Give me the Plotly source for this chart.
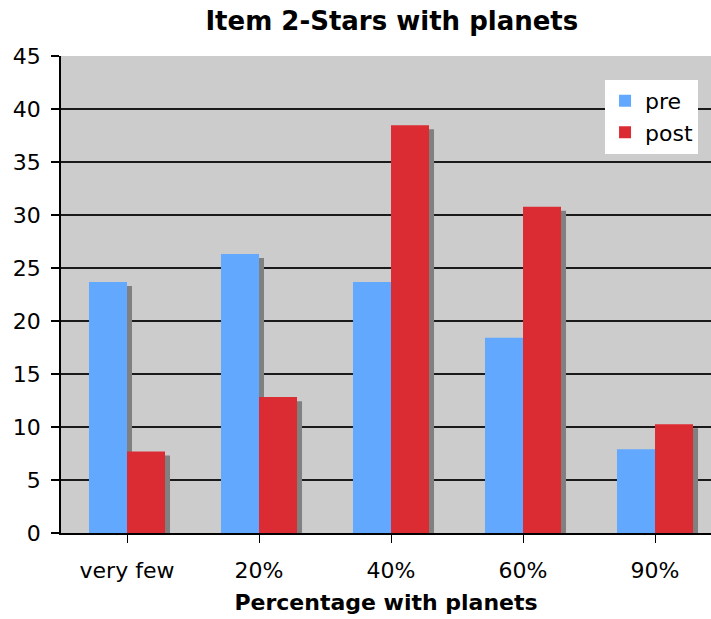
import plotly.graph_objects as go

categories = ["very few", "20%", "40%", "60%", "90%"]
pre = [23.68, 26.32, 23.68, 18.42, 7.89]
post = [7.69, 12.82, 38.46, 30.77, 10.26]
y_ticks = list(range(0, 50, 5))

BLUE = "#62A8FF"
RED = "#DC2C33"
SHADOW = "#808080"
FONT = "DejaVu Sans"

# bar geometry in category units (one category = 1.0)
bar_w = 0.288
shadow_dx = 0.038
shadow_dy = 0.38

x_idx = list(range(len(categories)))

fig = go.Figure()

def add_series(name, values, color, offset):
    # drop shadow drawn first, shifted right and slightly lower
    fig.add_trace(go.Bar(
        x=x_idx, y=[v - shadow_dy for v in values],
        width=bar_w, offset=offset + shadow_dx,
        marker=dict(color=SHADOW, line=dict(width=0)),
        showlegend=False, hoverinfo="skip",
    ))
    fig.add_trace(go.Bar(
        x=x_idx, y=values, name=name,
        width=bar_w, offset=offset,
        marker=dict(color=color, line=dict(width=0)),
    ))

add_series("pre", pre, BLUE, -bar_w)
add_series("post", post, RED, 0.0)

fig.update_layout(
    width=711, height=619,
    barmode="overlay",
    paper_bgcolor="white",
    plot_bgcolor="#CCCCCC",
    margin=dict(l=61, r=0, t=56, b=86),
    font=dict(family=FONT, color="black", size=22),
    title=dict(
        text="<b>Item 2-Stars with planets</b>",
        font=dict(family=FONT, size=26, color="black"),
        x=0.509, xref="paper", xanchor="center",
        y=1 - 21 / 619, yref="container", yanchor="middle",
    ),
    legend=dict(
        x=0.837, y=0.95, xanchor="left", yanchor="top",
        bgcolor="white", borderwidth=0,
        font=dict(family=FONT, size=22),
        traceorder="normal",
        itemsizing="constant",
        tracegroupgap=0,
    ),
    xaxis=dict(
        tickmode="array", tickvals=x_idx, ticktext=categories,
        range=[-0.5, 4.5 - 10 / 132],
        showgrid=False, zeroline=False,
        showline=True, linecolor="black", linewidth=1.5,
        ticks="outside", tickson="boundaries", ticklen=8, tickwidth=1.2,
        tickcolor="black",
        ticklabelstandoff=9,
        tickfont=dict(family=FONT, size=22),
        title=dict(text="<b>Percentage with planets</b>",
                   font=dict(family=FONT, size=22), standoff=12),
        fixedrange=True,
    ),
    yaxis=dict(
        range=[0, 45], tickmode="array", tickvals=y_ticks,
        showgrid=True, gridcolor="#1a1a1a", gridwidth=1.5,
        zeroline=False,
        showline=True, linecolor="black", linewidth=1.5,
        ticks="outside", ticklen=8, tickwidth=1.5, tickcolor="black",
        ticklabelstandoff=6,
        tickfont=dict(family=FONT, size=22),
        fixedrange=True,
    ),
)

fig.write_html("out.html", config={"displayModeBar": False})
